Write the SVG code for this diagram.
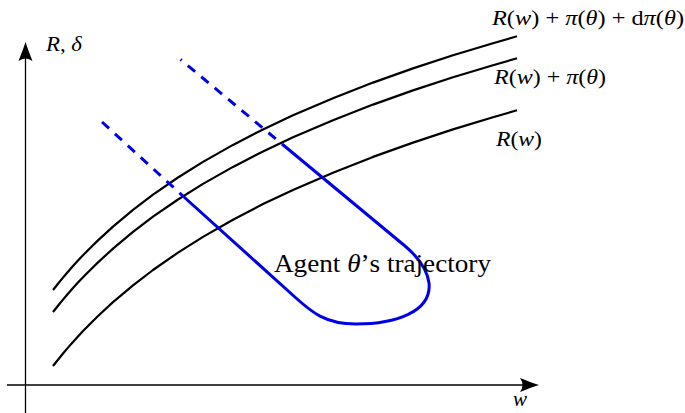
<svg xmlns="http://www.w3.org/2000/svg" xmlns:xlink="http://www.w3.org/1999/xlink" width="685" height="413" viewBox="0 0 685 413">
<style>
.axis{stroke:#000;stroke-width:1.3;fill:none}
.curve{stroke:#000;stroke-width:2.2;fill:none;stroke-linejoin:round}
.traj{stroke:#0000e6;stroke-width:3;fill:none;stroke-linejoin:round}
.dash{stroke-dasharray:9.5 8}
text{font-family:"Liberation Serif","Times New Roman",serif;fill:#000}
.it{font-style:italic}
.lab{font-size:21px}
</style>
<defs>
<marker id="arr" markerUnits="userSpaceOnUse" viewBox="-20 -9 22 18" markerWidth="22" markerHeight="18" refX="-7" refY="0" orient="auto" overflow="visible">
<path d="M0,0 C-6,-2 -13,-4.5 -19,-7 Q-14,0 -19,7 C-13,4.5 -6,2 0,0 Z" fill="#000"/>
</marker>
<path id="topcurve" d="M53,290 L58,283.7 L63,277.6 L68,271.8 L73,266.1 L78,260.6 L83,255.3 L90,248.2 L98,240.4 L113,226.6 L133,209.9 L153,194.7 L178,177.5 L203,161.9 L233,144.9 L263,129.4 L293,115.3 L333,98.2 L373,82.6 L413,68.4 L453,55.3 L493,43.2 L517,36.3"/>
</defs>
<g id="axes">
<line class="axis" x1="7" y1="385" x2="532" y2="385" marker-end="url(#arr)"/>
<line class="axis" x1="25.5" y1="413" x2="25.5" y2="49" marker-end="url(#arr)"/>
</g>
<g id="curves">
<use xlink:href="#topcurve" href="#topcurve" class="curve"/>
<use xlink:href="#topcurve" href="#topcurve" class="curve" transform="translate(0,22)"/>
<path class="curve" d="M53,366 L58,359.7 L63,353.5 L68,347.6 L73,341.9 L78,336.4 L83,331.1 L90,323.9 L98,316 L113,302.1 L133,285.3 L153,270 L178,252.6 L203,236.9 L233,219.7 L263,204.1 L293,189.9 L333,172.7 L373,156.9 L413,142.6 L453,129.4 L493,117.2 L517,110.3"/>
</g>
<g id="trajectory">
<path class="traj dash" d="M102,122 L184,197"/>
<path class="traj dash" d="M180.5,59.5 L282,144" stroke-dashoffset="8"/>
<path class="traj" d="M184,197 L296,298 C311,311.5 325,324 356,324 C395,324 432,312 429,283 C427,268 418,257 405,246 L282,144"/>
</g>
<g id="labels">
<text class="lab" x="46" y="51" textLength="36" lengthAdjust="spacingAndGlyphs"><tspan class="it">R</tspan>, <tspan class="it">δ</tspan></text>
<text class="lab it" x="513" y="406">w</text>
<text class="lab" x="492" y="25" textLength="192" lengthAdjust="spacingAndGlyphs"><tspan class="it">R</tspan>(<tspan class="it">w</tspan>) + <tspan class="it">π</tspan>(<tspan class="it">θ</tspan>) +  d<tspan class="it">π</tspan>(<tspan class="it">θ</tspan>)</text>
<text class="lab" x="494" y="84" textLength="112" lengthAdjust="spacingAndGlyphs"><tspan class="it">R</tspan>(<tspan class="it">w</tspan>) + <tspan class="it">π</tspan>(<tspan class="it">θ</tspan>)</text>
<text class="lab" x="496" y="146" textLength="46" lengthAdjust="spacingAndGlyphs"><tspan class="it">R</tspan>(<tspan class="it">w</tspan>)</text>
<text x="274" y="272" font-size="25" textLength="217" lengthAdjust="spacingAndGlyphs">Agent <tspan class="it">θ</tspan>’s trajectory</text>
</g>
</svg>
